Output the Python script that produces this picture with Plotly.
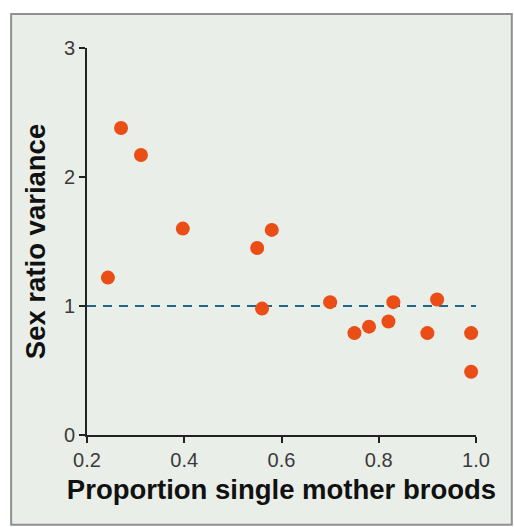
import plotly.graph_objects as go

# Data
prop_single = [0.243, 0.27, 0.311, 0.397, 0.55, 0.58, 0.56, 0.70, 0.75, 0.78, 0.82, 0.83, 0.90, 0.92, 0.99, 0.99]
sex_ratio_var = [1.22, 2.38, 2.17, 1.60, 1.45, 1.59, 0.98, 1.03, 0.79, 0.84, 0.88, 1.03, 0.79, 1.05, 0.79, 0.49]
x_ticks = [0.2, 0.4, 0.6, 0.8, 1.0]
x_tick_labels = ["0.2", "0.4", "0.6", "0.8", "1.0"]
y_ticks = [0, 1, 2, 3]
ref_line = 1

fig = go.Figure()
fig.add_trace(go.Scatter(
    x=[x_ticks[0], x_ticks[-1]], y=[ref_line, ref_line], mode="lines",
    line=dict(color="#1f6886", width=2, dash="9px,7px"), hoverinfo="skip", showlegend=False))
fig.add_trace(go.Scatter(
    x=prop_single, y=sex_ratio_var, mode="markers",
    marker=dict(color="#ea4d15", size=14, line=dict(width=0)),
    cliponaxis=False, showlegend=False))

font_family = "Liberation Sans, Arial, sans-serif"
fig.update_layout(
    width=514, height=527,
    margin=dict(l=87, r=38, t=48, b=92),
    paper_bgcolor="white",
    plot_bgcolor="#dfe7dd",
    font=dict(family=font_family, color="#1a1a1a"),
    shapes=[dict(type="rect", xref="paper", yref="paper",
                 x0=-0.195, x1=1.092, y0=-0.232, y1=1.088,
                 fillcolor="#eaeee8", line=dict(color="#909090", width=2), layer="below")],
)
fig.update_xaxes(
    range=[0.2, 1.0], tickvals=x_ticks, ticktext=x_tick_labels,
    showgrid=False, zeroline=False, showline=True, linecolor="#222", linewidth=2,
    ticks="outside", ticklen=6, tickwidth=2, tickcolor="#222",
    tickfont=dict(size=20, color="#3a3a3a"), automargin=False,
    title=dict(text="<b>Proportion single mother broods</b>", font=dict(size=27.5, color="#111"), standoff=10),
)
fig.update_yaxes(
    range=[0, 3], tickvals=y_ticks,
    showgrid=False, zeroline=False, showline=True, linecolor="#222", linewidth=2,
    ticks="outside", ticklen=6, tickwidth=2, tickcolor="#222",
    tickfont=dict(size=20, color="#3a3a3a"), automargin=False,
    title=dict(text="<b>Sex ratio variance</b>", font=dict(size=27.5, color="#111"), standoff=10),
)
fig.write_html("out.html", config={"displayModeBar": False},
               post_script="document.body.style.margin='0';")
